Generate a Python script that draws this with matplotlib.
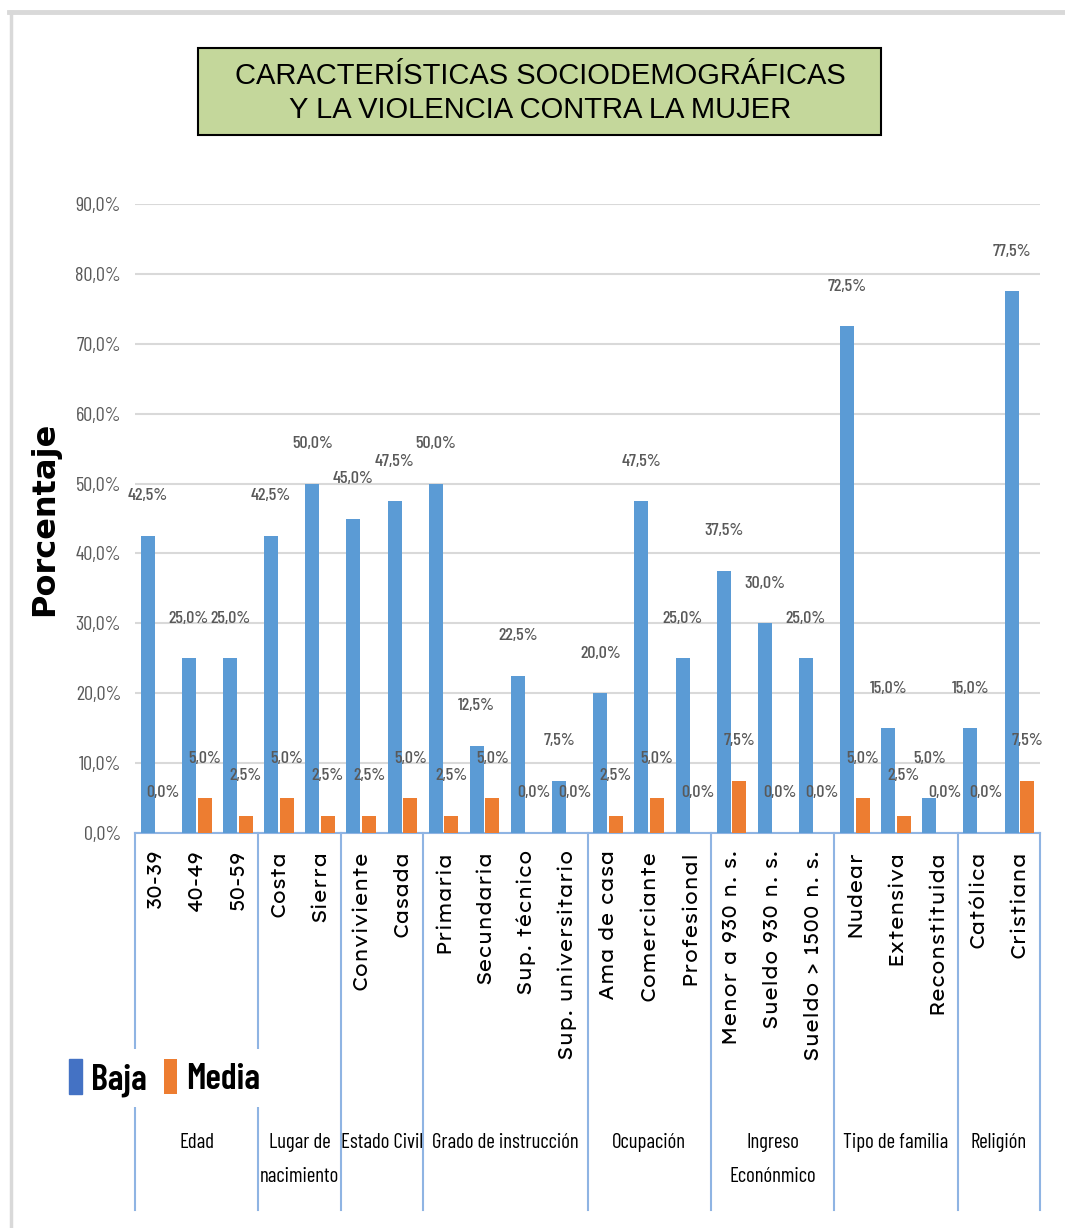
import matplotlib
matplotlib.use("Agg")
import matplotlib.pyplot as plt
import matplotlib.transforms as mtransforms
from matplotlib.patches import Rectangle
from matplotlib.lines import Line2D

# Data
categorias = ['30-39', '40-49', '50-59', 'Costa', 'Sierra', 'Conviviente', 'Casada',
              'Primaria', 'Secundaria', 'Sup. técnico', 'Sup. universitario',
              'Ama de casa', 'Comerciante', 'Profesional',
              'Menor a 930 n. s.', 'Sueldo 930 n. s.', 'Sueldo > 1500 n. s.',
              'Nudear', 'Extensiva', 'Reconstituida', 'Católica', 'Cristiana']
grupos = ['Edad', 'Lugar de\nnacimiento', 'Estado Civil', 'Grado de instrucción',
          'Ocupación', 'Ingreso\nEconónmico', 'Tipo de familia', 'Religión']
grupo_tam = [3, 2, 2, 4, 3, 3, 3, 2]
baja = [42.5, 25.0, 25.0, 42.5, 50.0, 45.0, 47.5, 50.0, 12.5, 22.5, 7.5,
        20.0, 47.5, 25.0, 37.5, 30.0, 25.0, 72.5, 15.0, 5.0, 15.0, 77.5]
media = [0.0, 5.0, 2.5, 5.0, 2.5, 2.5, 5.0, 2.5, 5.0, 0.0, 0.0,
         2.5, 5.0, 0.0, 7.5, 0.0, 0.0, 5.0, 2.5, 0.0, 0.0, 7.5]

narrow = ['Barlow Condensed', 'Archivo Narrow', 'DejaVu Sans']
wide = ['Lexend Exa', 'DejaVu Sans']
gray = '#595959'
axis_blue = '#8FB4E3'

fig = plt.figure(figsize=(10.65, 12.28), dpi=100)
W, H = 1065, 1228

# frame of the picture
fig.add_artist(Line2D([9 / W, 1], [1 - 11.5 / H] * 2, color='#D9D9D9', lw=3.5))
fig.add_artist(Line2D([10.5 / W] * 2, [0, 1 - 11.5 / H], color='#D9D9D9', lw=2.5))

# title box
fig.add_artist(Rectangle((198 / W, 1 - 135 / H), (881 - 198) / W, (135 - 48) / H,
                         facecolor='#C4D79B', edgecolor='black', lw=1.5))
fig.text(540 / W, 1 - 93 / H, 'CARACTERÍSTICAS SOCIODEMOGRÁFICAS\nY LA VIOLENCIA CONTRA LA MUJER',
         ha='center', va='center', fontsize=21, family='Liberation Sans',
         linespacing=1.3)

ax = fig.add_axes([135 / W, 1 - 833 / H, (1040 - 135) / W, (833 - 204) / H])
x = list(range(len(categorias)))
off, w = 0.19, 0.34
xb = [i - off for i in x]
xm = [i + off for i in x]
ax.bar(xb, baja, width=w, color='#5B9BD5', zorder=3, label='Baja')
ax.bar(xm, media, width=w, color='#ED7D31', zorder=3, label='Media')

ax.set_xlim(-0.5, len(categorias) - 0.5)
ax.set_ylim(0, 90)
ax.set_yticks(range(0, 91, 10))
ax.set_yticklabels([f'{v},0%' for v in range(0, 91, 10)], family=narrow,
                   fontsize=14.5, color=gray)
ax.tick_params(axis='y', length=0, pad=10)
ax.grid(axis='y', color='#D9D9D9', lw=1.5, zorder=0)
for s in ['top', 'right', 'left']:
    ax.spines[s].set_visible(False)
ax.spines['bottom'].set_color(axis_blue)
ax.spines['bottom'].set_linewidth(1.5)

# category labels
ax.set_xticks(x)
ax.set_xticklabels(categorias, rotation=90, fontsize=14, family=wide,
                   va='top', ha='center')
ax.tick_params(axis='x', length=0, pad=12)

# data labels
px = 629 / 90.0  # pixels per percentage point
lab_off = 40 / px
for xi, v in zip(xb, baja):
    ax.text(xi, v + lab_off, f'{v:.1f}%'.replace('.', ','), ha='center', va='center',
            fontsize=13, family=narrow, weight='medium', color=gray, zorder=4)
for xi, v in zip(xm, media):
    ax.text(xi, v + lab_off, f'{v:.1f}%'.replace('.', ','), ha='center', va='center',
            fontsize=13, family=narrow, weight='medium', color=gray, zorder=4)

ax.set_ylabel('Porcentaje', fontsize=23, fontweight='bold', family='DejaVu Sans')
ax.yaxis.set_label_coords((60 - 135) / 905, 0.5)

# group separators and labels
trans = mtransforms.blended_transform_factory(ax.transData, ax.transAxes)
bottom = -(1210 - 833) / 629.0
bounds = [-0.5]
for n in grupo_tam:
    bounds.append(bounds[-1] + n)
for b in bounds:
    ax.plot([b, b], [0, bottom], color=axis_blue, lw=1.5, transform=trans,
            clip_on=False, zorder=1)
for i, g in enumerate(grupos):
    c = (bounds[i] + bounds[i + 1]) / 2
    ax.text(c, -(1133 - 833) / 629.0, g, transform=trans, ha='center', va='top',
            fontsize=15, family=narrow, linespacing=2.0)

leg = ax.legend(loc='center left', bbox_to_anchor=(40 / W, 1 - 1078 / H),
                bbox_transform=fig.transFigure, ncol=2, frameon=True,
                facecolor='white', edgecolor='none', framealpha=1,
                prop={'family': narrow, 'size': 26, 'weight': 'semibold'},
                handlelength=0.35, handleheight=1.1, handletextpad=0.25,
                columnspacing=0.5, borderpad=0.3)
leg.legend_handles[0].set_color('#4472C4')
leg.set_zorder(5)

fig.savefig('out.png', dpi=100)
